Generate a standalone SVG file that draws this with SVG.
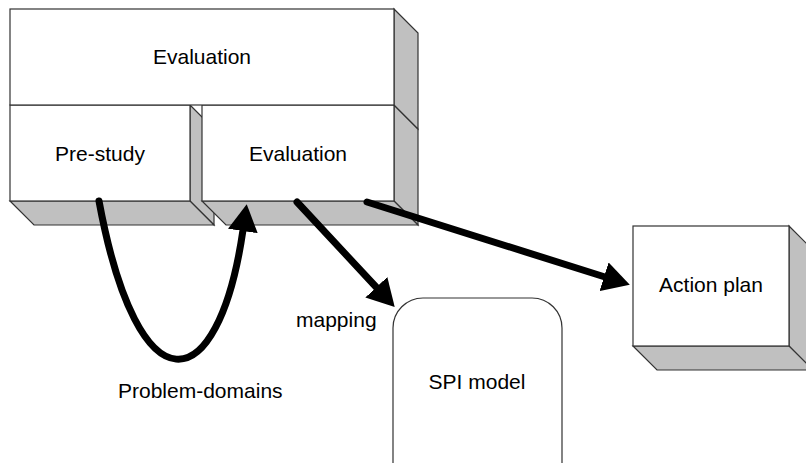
<svg xmlns="http://www.w3.org/2000/svg" width="806" height="463" viewBox="0 0 806 463">
<style>
.face{fill:#ffffff;stroke:#333333;stroke-width:1.2}
.side{fill:#c0c0c0;stroke:#333333;stroke-width:1.2;stroke-linejoin:miter}
.lbl{font-family:"Liberation Sans",Arial,sans-serif;font-size:21px;fill:#000000}
.mid{text-anchor:middle}
.conn{fill:none;stroke:#000000;stroke-width:7;stroke-linecap:round}
</style>
<defs>
<marker id="ah" viewBox="0 -15 28 30" markerWidth="28" markerHeight="30" refX="1" refY="0" orient="auto" markerUnits="userSpaceOnUse">
<path d="M0,-15 L27,0 L0,15 Z" fill="#000000"/>
</marker>
</defs>
<g id="prestudy">
<polygon class="side" points="190,105 214,129 214,225 190,201"/>
<polygon class="side" points="10,201 34,225 214,225 190,201"/>
<rect class="face" x="10" y="105" width="180" height="96"/>
<text class="lbl mid" x="100" y="161">Pre-study</text>
</g>
<g id="evaluation-inner">
<polygon class="side" points="394,105 418,129 418,225 394,201"/>
<polygon class="side" points="202,201 226,225 418,225 394,201"/>
<rect class="face" x="202" y="105" width="192" height="96"/>
<text class="lbl mid" x="298" y="161">Evaluation</text>
</g>
<g id="evaluation-outer">
<polygon class="side" points="394,9 418,33 418,129 394,105"/>
<rect class="face" x="10" y="9" width="384" height="96"/>
<text class="lbl mid" x="202" y="64">Evaluation</text>
</g>
<g id="actionplan">
<polygon class="side" points="789,226 813,250 813,370 789,346"/>
<polygon class="side" points="633,346 657,370 813,370 789,346"/>
<rect class="face" x="633" y="226" width="156" height="120"/>
<text class="lbl mid" x="711" y="292">Action plan</text>
</g>
<g id="spimodel">
<rect class="face" x="393" y="298" width="169" height="200" rx="30" ry="30"/>
<text class="lbl mid" x="477" y="389">SPI model</text>
</g>
<g id="connectors">
<path class="conn" d="M99,201 C138,412 218,402 243,230" marker-end="url(#ah)"/>
<path class="conn" d="M297,202 L377,288" marker-end="url(#ah)"/>
<path class="conn" d="M367,202 L605,277" marker-end="url(#ah)"/>
<text class="lbl" x="296" y="327">mapping</text>
<text class="lbl" x="118" y="398">Problem-domains</text>
</g>
</svg>
